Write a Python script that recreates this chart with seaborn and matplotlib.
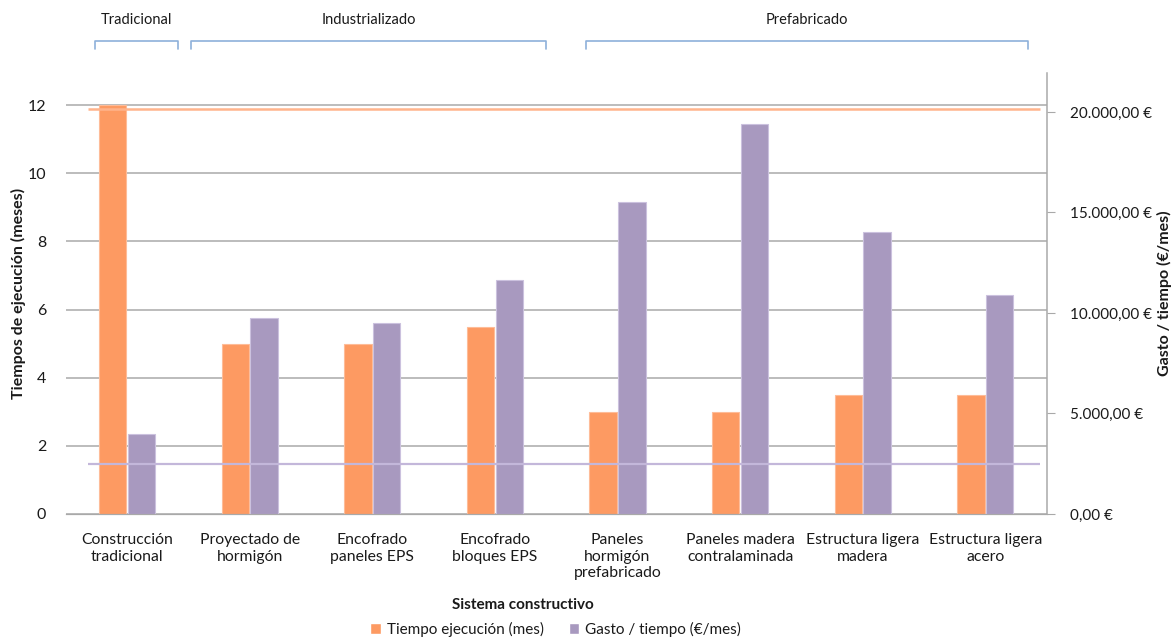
import pandas as pd
import seaborn as sns
import matplotlib.pyplot as plt
from matplotlib.patches import Patch
from matplotlib.transforms import blended_transform_factory

# data
sistemas = ["Construcción\ntradicional", "Proyectado de\nhormigón", "Encofrado\npaneles EPS",
            "Encofrado\nbloques EPS", "Paneles\nhormigón\nprefabricado", "Paneles madera\ncontralaminada",
            "Estructura ligera\nmadera", "Estructura ligera\nacero"]
tiempo = [12, 5, 5, 5.5, 3, 3, 3.5, 3.5]
gasto = [3980, 9740, 9490, 11630, 15540, 19400, 14050, 10900]
ref_tiempo = 11.88
ref_gasto = 2490
grupos = ["Tradicional", "Industrializado", "Prefabricado"]
grupo_rango = [(-0.26, 0.42), (0.52, 3.42), (3.74, 7.35)]

series = ["Tiempo ejecución (mes)", "Gasto / tiempo (€/mes)"]
c_orange = "#FD9A62"
c_purple = "#A899BF"
txt = "#1a1a1a"

df1 = pd.DataFrame({"sistema": sistemas * 2, "serie": [series[0]] * 8 + [series[1]] * 8,
                    "valor": tiempo + [float("nan")] * 8})
df2 = pd.DataFrame({"sistema": sistemas * 2, "serie": [series[0]] * 8 + [series[1]] * 8,
                    "valor": [float("nan")] * 8 + gasto})

sns.set_style("white")
plt.rcParams["font.family"] = ["Lato", "DejaVu Sans"]

fig = plt.figure(figsize=(11.75, 6.42), dpi=100)
ax = fig.add_axes([0.0559, 0.1994, 0.8349, 0.6869])
ax2 = ax.twinx()

pal = {series[0]: c_orange, series[1]: c_purple}
sns.barplot(data=df1, x="sistema", y="valor", hue="serie", hue_order=series, palette=pal,
            width=0.47, gap=0.05, ax=ax, legend=False, errorbar=None,
            edgecolor="#FEBC98", linewidth=0.8, saturation=1)
sns.barplot(data=df2, x="sistema", y="valor", hue="serie", hue_order=series, palette=pal,
            width=0.47, gap=0.05, ax=ax2, legend=False, errorbar=None,
            edgecolor="#CBC1DE", linewidth=0.8, saturation=1)

ax.set_xlim(-0.5, 7.5)
ax.set_ylim(0, 12.94)
ax2.set_ylim(0, 21940)
ax.set_yticks(range(0, 13, 2))
ax2.set_yticks(range(0, 20001, 5000))
ax2.set_yticklabels([f"{v:,.2f} €".replace(",", "X").replace(".", ",").replace("X", ".")
                     for v in range(0, 20001, 5000)])

ax.grid(axis="y", color="#A9A9A9", linewidth=1.1)
ax.set_axisbelow(True)
for a in (ax, ax2):
    for s in ("top", "left", "right"):
        a.spines[s].set_visible(False)
    a.spines["bottom"].set_color("#A9A9A9")
ax2.spines["right"].set_visible(True)
ax2.spines["right"].set_color("#A9A9A9")
ax2.spines["right"].set_linewidth(1.1)

ax.tick_params(axis="y", length=0, pad=14, labelsize=11.5, colors=txt)
ax.tick_params(axis="x", length=0, pad=14, labelsize=11.3, colors=txt)
ax2.tick_params(axis="y", length=6, pad=11, labelsize=11, colors=txt)
ax2.tick_params(axis="y", color="#A9A9A9")

ax.set_xlabel("")
ax.set_ylabel("Tiempos de ejecución (meses)", fontsize=11.5, fontweight="bold", color=txt)
ax2.set_ylabel("Gasto / tiempo (€/mes)", fontsize=11.5, fontweight="bold", color=txt, labelpad=3)
ax.yaxis.set_label_coords(-0.040, 0.5)

# reference lines
ax2.hlines(ref_gasto, -0.318, 7.447, color="#C3B7DA", linewidth=1.6, zorder=5)
ax2.hlines(ref_tiempo * 21940 / 12.94, -0.318, 7.447, color="#FFB48C", linewidth=1.8, zorder=5)

# group brackets above the plot
tr = blended_transform_factory(ax.transData, ax.transAxes)
for nombre, (x0, x1) in zip(grupos, grupo_rango):
    ax.plot([x0, x0, x1, x1], [1.054, 1.072, 1.072, 1.054], transform=tr,
            color="#8EB0DA", linewidth=1.2, clip_on=False)
    ax.text((x0 + x1) / 2, 1.12, nombre, transform=tr, ha="center", va="center",
            fontsize=10.5, color=txt)

fig.text(0.445, 0.057, "Sistema constructivo", ha="center", va="center",
         fontsize=11, fontweight="bold", color=txt)
handles = [Patch(facecolor=c_orange), Patch(facecolor=c_purple)]
fig.legend(handles, series, loc="center", bbox_to_anchor=(0.473, 0.02), ncol=2, frameon=False,
           fontsize=11, handlelength=0.7, handleheight=0.7, handletextpad=0.4, columnspacing=1.6,
           labelcolor=txt)

fig.savefig("out.png", dpi=100)
